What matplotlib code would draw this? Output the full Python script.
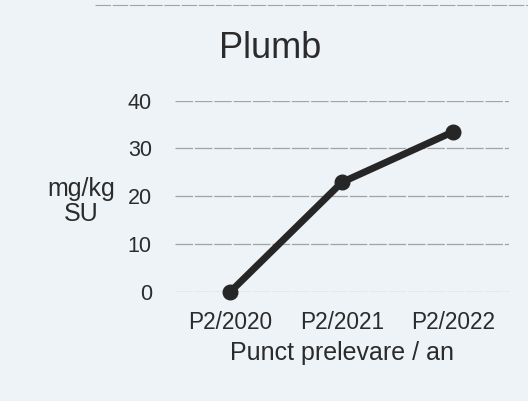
import matplotlib
matplotlib.use("Agg")
import matplotlib.pyplot as plt
from matplotlib.lines import Line2D

categories = ["P2/2020", "P2/2021", "P2/2022"]
values = [0, 22.9, 33.5]
yticks = [0, 10, 20, 30, 40]

bg = "#edf3f6"
txt = "#2b2b2b"
plt.rcParams['font.family'] = ['Liberation Sans', 'DejaVu Sans']

fig = plt.figure(figsize=(5.28, 4.01), dpi=100, facecolor=bg)
ax = fig.add_axes([0.331, 0.2726, 0.633, 0.4763], facecolor=bg)

x = list(range(len(categories)))
ax.plot(x, values, color="#262626", lw=5, marker="o", markersize=10.5,
        clip_on=False, zorder=3, solid_capstyle="round")

ax.set_xlim(-0.5, 2.5)
ax.set_ylim(0, 40)
ax.set_yticks(yticks)
ax.set_yticklabels([str(t) for t in yticks], fontsize=15.5, color=txt)
ax.set_xticks(x)
ax.set_xticklabels(categories, fontsize=16.3, color=txt)
ax.tick_params(length=0, pad=16.5, axis="y")
ax.tick_params(length=0, pad=14, axis="x")
ax.yaxis.grid(True, color="#a3a3a3", lw=0.9, ls=(0, (14, 1.5)))
for s in ax.spines.values():
    s.set_visible(False)

fig.text(270/528, 1-48/401, "Plumb", fontsize=26, color=txt,
         ha="center", va="center")
ax.set_xlabel("Punct prelevare / an", fontsize=18, color=txt, labelpad=5)
ax.set_ylabel("mg/kg\nSU", fontsize=18, color=txt, rotation=0,
              ha="center", va="center", linespacing=1.05)
ax.yaxis.set_label_coords(-0.28, 0.47)

fig.add_artist(Line2D([95/528, 1.0], [1-5/401, 1-5/401], color="#a3a3a3",
                      lw=0.8, ls=(0, (14, 1.5)), transform=fig.transFigure))

fig.savefig("out.png", dpi=100, facecolor=bg)
